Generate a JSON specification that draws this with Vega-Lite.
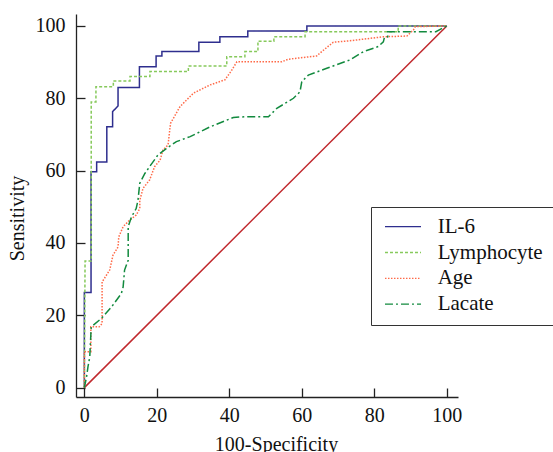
{
  "$schema": "https://vega.github.io/schema/vega-lite/v6.json",
  "width": 382,
  "height": 383,
  "autosize": {"type": "none"},
  "padding": {"left": 76, "top": 14, "right": 95, "bottom": 55},
  "background": "white",
  "config": {
    "view": {"stroke": null},
    "font": "Liberation Serif",
    "axis": {
      "labelFont": "Liberation Serif",
      "titleFont": "Liberation Serif",
      "labelFontSize": 20,
      "titleFontSize": 20,
      "titleFontWeight": "normal",
      "labelColor": "#111",
      "titleColor": "#111",
      "domainColor": "#222",
      "domainWidth": 1.3,
      "tickColor": "#222",
      "tickWidth": 1.3,
      "grid": false,
      "labelFlush": false,
      "labelOverlap": false,
      "labelBound": false
    },
    "legend": {
      "labelFont": "Liberation Serif",
      "labelFontSize": 21,
      "labelColor": "#111"
    }
  },
  "datasets": {
    "roc": [
      {"s": "IL-6", "x": 0, "y": 0},
      {"s": "IL-6", "x": 0, "y": 26.3},
      {"s": "IL-6", "x": 1.85, "y": 26.3},
      {"s": "IL-6", "x": 1.85, "y": 59.7},
      {"s": "IL-6", "x": 3.4, "y": 59.7},
      {"s": "IL-6", "x": 3.4, "y": 62.4},
      {"s": "IL-6", "x": 6.2, "y": 62.4},
      {"s": "IL-6", "x": 6.2, "y": 72.1},
      {"s": "IL-6", "x": 7.8, "y": 72.1},
      {"s": "IL-6", "x": 7.8, "y": 76.3},
      {"s": "IL-6", "x": 9.3, "y": 77.9},
      {"s": "IL-6", "x": 9.3, "y": 83.0},
      {"s": "IL-6", "x": 15.2, "y": 83.0},
      {"s": "IL-6", "x": 15.2, "y": 88.7},
      {"s": "IL-6", "x": 19.8, "y": 88.7},
      {"s": "IL-6", "x": 19.8, "y": 91.7},
      {"s": "IL-6", "x": 21.4, "y": 91.7},
      {"s": "IL-6", "x": 21.4, "y": 92.9},
      {"s": "IL-6", "x": 31.6, "y": 92.9},
      {"s": "IL-6", "x": 31.6, "y": 95.5},
      {"s": "IL-6", "x": 37.4, "y": 95.5},
      {"s": "IL-6", "x": 37.4, "y": 97.0},
      {"s": "IL-6", "x": 45.1, "y": 97.0},
      {"s": "IL-6", "x": 45.1, "y": 98.6},
      {"s": "IL-6", "x": 61.4, "y": 98.6},
      {"s": "IL-6", "x": 61.4, "y": 100},
      {"s": "IL-6", "x": 100, "y": 100},

      {"s": "Lymphocyte", "x": 0, "y": 0},
      {"s": "Lymphocyte", "x": 0.2, "y": 35},
      {"s": "Lymphocyte", "x": 1.9, "y": 35},
      {"s": "Lymphocyte", "x": 1.9, "y": 79.0},
      {"s": "Lymphocyte", "x": 3.2, "y": 79.0},
      {"s": "Lymphocyte", "x": 3.2, "y": 83.2},
      {"s": "Lymphocyte", "x": 8.0, "y": 83.2},
      {"s": "Lymphocyte", "x": 8.0, "y": 84.8},
      {"s": "Lymphocyte", "x": 12.6, "y": 84.8},
      {"s": "Lymphocyte", "x": 12.6, "y": 86.0},
      {"s": "Lymphocyte", "x": 18.1, "y": 86.0},
      {"s": "Lymphocyte", "x": 18.1, "y": 87.4},
      {"s": "Lymphocyte", "x": 28.7, "y": 87.4},
      {"s": "Lymphocyte", "x": 28.7, "y": 88.9},
      {"s": "Lymphocyte", "x": 39.3, "y": 88.9},
      {"s": "Lymphocyte", "x": 39.3, "y": 91.5},
      {"s": "Lymphocyte", "x": 44.3, "y": 91.5},
      {"s": "Lymphocyte", "x": 44.3, "y": 92.9},
      {"s": "Lymphocyte", "x": 47.9, "y": 92.9},
      {"s": "Lymphocyte", "x": 47.9, "y": 95.8},
      {"s": "Lymphocyte", "x": 52.3, "y": 95.8},
      {"s": "Lymphocyte", "x": 52.3, "y": 97.0},
      {"s": "Lymphocyte", "x": 60.9, "y": 97.0},
      {"s": "Lymphocyte", "x": 60.9, "y": 98.4},
      {"s": "Lymphocyte", "x": 86.6, "y": 98.4},
      {"s": "Lymphocyte", "x": 86.6, "y": 100},
      {"s": "Lymphocyte", "x": 100, "y": 100},

      {"s": "Age", "x": 0, "y": 0},
      {"s": "Age", "x": 0, "y": 9.9},
      {"s": "Age", "x": 1.8, "y": 9.9},
      {"s": "Age", "x": 1.8, "y": 16.8},
      {"s": "Age", "x": 4.1, "y": 16.8},
      {"s": "Age", "x": 4.9, "y": 17.7},
      {"s": "Age", "x": 4.9, "y": 29.2},
      {"s": "Age", "x": 7.0, "y": 32.5},
      {"s": "Age", "x": 7.9, "y": 36.6},
      {"s": "Age", "x": 9.3, "y": 38.9},
      {"s": "Age", "x": 9.5, "y": 41.7},
      {"s": "Age", "x": 10.7, "y": 44.5},
      {"s": "Age", "x": 12.5, "y": 46.3},
      {"s": "Age", "x": 14.3, "y": 47.7},
      {"s": "Age", "x": 15.3, "y": 49.5},
      {"s": "Age", "x": 15.3, "y": 51.8},
      {"s": "Age", "x": 16.2, "y": 55.1},
      {"s": "Age", "x": 18.0, "y": 57.4},
      {"s": "Age", "x": 19.4, "y": 61.1},
      {"s": "Age", "x": 20.9, "y": 62.9},
      {"s": "Age", "x": 21.7, "y": 65.7},
      {"s": "Age", "x": 23.1, "y": 67.1},
      {"s": "Age", "x": 23.6, "y": 71.5},
      {"s": "Age", "x": 23.8, "y": 73.1},
      {"s": "Age", "x": 26.4, "y": 77.7},
      {"s": "Age", "x": 30.1, "y": 81.4},
      {"s": "Age", "x": 34.7, "y": 83.7},
      {"s": "Age", "x": 38.8, "y": 85.1},
      {"s": "Age", "x": 40.5, "y": 87.5},
      {"s": "Age", "x": 42.1, "y": 90.1},
      {"s": "Age", "x": 54.5, "y": 90.1},
      {"s": "Age", "x": 56.3, "y": 90.8},
      {"s": "Age", "x": 64.1, "y": 91.7},
      {"s": "Age", "x": 65.5, "y": 92.9},
      {"s": "Age", "x": 68.7, "y": 95.5},
      {"s": "Age", "x": 73.3, "y": 95.9},
      {"s": "Age", "x": 82.5, "y": 97.0},
      {"s": "Age", "x": 89.0, "y": 97.2},
      {"s": "Age", "x": 90.8, "y": 98.9},
      {"s": "Age", "x": 91.3, "y": 99.8},
      {"s": "Age", "x": 100, "y": 100},

      {"s": "Lacate", "x": 0, "y": 0},
      {"s": "Lacate", "x": 0.6, "y": 2.9},
      {"s": "Lacate", "x": 1.0, "y": 5.7},
      {"s": "Lacate", "x": 1.5, "y": 8.5},
      {"s": "Lacate", "x": 1.9, "y": 16.8},
      {"s": "Lacate", "x": 4.7, "y": 19.1},
      {"s": "Lacate", "x": 7.5, "y": 22.3},
      {"s": "Lacate", "x": 10.2, "y": 26.0},
      {"s": "Lacate", "x": 10.7, "y": 27.8},
      {"s": "Lacate", "x": 11.1, "y": 32.5},
      {"s": "Lacate", "x": 12.1, "y": 35.2},
      {"s": "Lacate", "x": 12.1, "y": 44.5},
      {"s": "Lacate", "x": 13.0, "y": 47.2},
      {"s": "Lacate", "x": 14.3, "y": 49.5},
      {"s": "Lacate", "x": 14.8, "y": 51.8},
      {"s": "Lacate", "x": 15.3, "y": 56.5},
      {"s": "Lacate", "x": 16.7, "y": 59.2},
      {"s": "Lacate", "x": 18.0, "y": 61.1},
      {"s": "Lacate", "x": 20.3, "y": 64.3},
      {"s": "Lacate", "x": 22.6, "y": 66.1},
      {"s": "Lacate", "x": 25.4, "y": 68.0},
      {"s": "Lacate", "x": 29.2, "y": 69.4},
      {"s": "Lacate", "x": 34.7, "y": 72.1},
      {"s": "Lacate", "x": 41.1, "y": 74.7},
      {"s": "Lacate", "x": 44.8, "y": 74.9},
      {"s": "Lacate", "x": 50.8, "y": 74.9},
      {"s": "Lacate", "x": 53.1, "y": 77.2},
      {"s": "Lacate", "x": 57.7, "y": 80.0},
      {"s": "Lacate", "x": 59.5, "y": 81.8},
      {"s": "Lacate", "x": 60.0, "y": 84.6},
      {"s": "Lacate", "x": 61.8, "y": 86.4},
      {"s": "Lacate", "x": 66.9, "y": 88.3},
      {"s": "Lacate", "x": 73.3, "y": 90.6},
      {"s": "Lacate", "x": 77.0, "y": 92.9},
      {"s": "Lacate", "x": 81.1, "y": 94.3},
      {"s": "Lacate", "x": 82.5, "y": 95.6},
      {"s": "Lacate", "x": 82.8, "y": 96.8},
      {"s": "Lacate", "x": 83.7, "y": 97.0},
      {"s": "Lacate", "x": 83.7, "y": 98.4},
      {"s": "Lacate", "x": 97.0, "y": 98.4},
      {"s": "Lacate", "x": 100, "y": 100}
    ],
    "ref": [
      {"x": 0, "y": 0},
      {"x": 100, "y": 100}
    ]
  },
  "layer": [
    {
      "data": {"name": "ref"},
      "mark": {"type": "line", "color": "#c0282d", "strokeWidth": 1.5},
      "encoding": {
        "x": {"field": "x", "type": "quantitative", "scale": {"domain": [-2.3, 103.1], "nice": false, "zero": false}},
        "y": {"field": "y", "type": "quantitative", "scale": {"domain": [-2.6, 103.3], "nice": false, "zero": false}}
      }
    },
    {
      "data": {"name": "roc"},
      "mark": {"type": "line", "strokeWidth": 1.5, "interpolate": "linear"},
      "encoding": {
        "x": {
          "field": "x", "type": "quantitative",
          "scale": {"domain": [-2.3, 103.1], "nice": false, "zero": false},
          "axis": {
            "title": "100-Specificity",
            "values": [0, 5, 10, 15, 20, 25, 30, 35, 40, 45, 50, 55, 60, 65, 70, 75, 80, 85, 90, 95, 100],
            "labelExpr": "datum.value % 20 === 0 ? datum.label : ''",
            "tickSize": {"condition": {"test": "datum.value % 20 === 0", "value": -9}, "value": -4},
            "labelPadding": 17.5,
            "titlePadding": 9,
            "titleX": 200
          }
        },
        "y": {
          "field": "y", "type": "quantitative",
          "scale": {"domain": [-2.6, 103.3], "nice": false, "zero": false},
          "axis": {
            "title": "Sensitivity",
            "values": [0, 5, 10, 15, 20, 25, 30, 35, 40, 45, 50, 55, 60, 65, 70, 75, 80, 85, 90, 95, 100],
            "labelExpr": "datum.value % 20 === 0 ? datum.label : ''",
            "tickSize": {"condition": {"test": "datum.value % 20 === 0", "value": -9}, "value": -4},
            "labelPadding": 20,
            "titlePadding": 8,
            "titleY": 204
          }
        },
        "color": {
          "field": "s", "type": "nominal",
          "scale": {"domain": ["IL-6", "Lymphocyte", "Age", "Lacate"], "range": ["#2e2e8e", "#86c95b", "#ff6a48", "#128a3e"]},
          "legend": {
            "title": null,
            "orient": "none",
            "legendX": 295,
            "legendY": 193,
            "strokeColor": "#333",
            "fillColor": "white",
            "padding": 10,
            "symbolType": "stroke",
            "symbolSize": 1300,
            "symbolStrokeWidth": 1.3,
            "symbolOffset": 3,
            "labelOffset": 15.7,
            "clipHeight": 19.4,
            "rowPadding": 3.8,
            "labelLimit": 300
          }
        },
        "strokeDash": {
          "field": "s", "type": "nominal",
          "scale": {"domain": ["IL-6", "Lymphocyte", "Age", "Lacate"], "range": [[1, 0], [3, 2], [1.5, 1.5], [8, 3, 2, 3]]},
          "legend": {
            "title": null,
            "orient": "none",
            "legendX": 295,
            "legendY": 193,
            "strokeColor": "#333",
            "fillColor": "white",
            "padding": 10,
            "symbolType": "stroke",
            "symbolSize": 1300,
            "symbolStrokeWidth": 1.3,
            "symbolOffset": 3,
            "labelOffset": 15.7,
            "clipHeight": 19.4,
            "rowPadding": 3.8,
            "labelLimit": 300
          }
        },
        "order": {"value": null}
      }
    }
  ]
}
